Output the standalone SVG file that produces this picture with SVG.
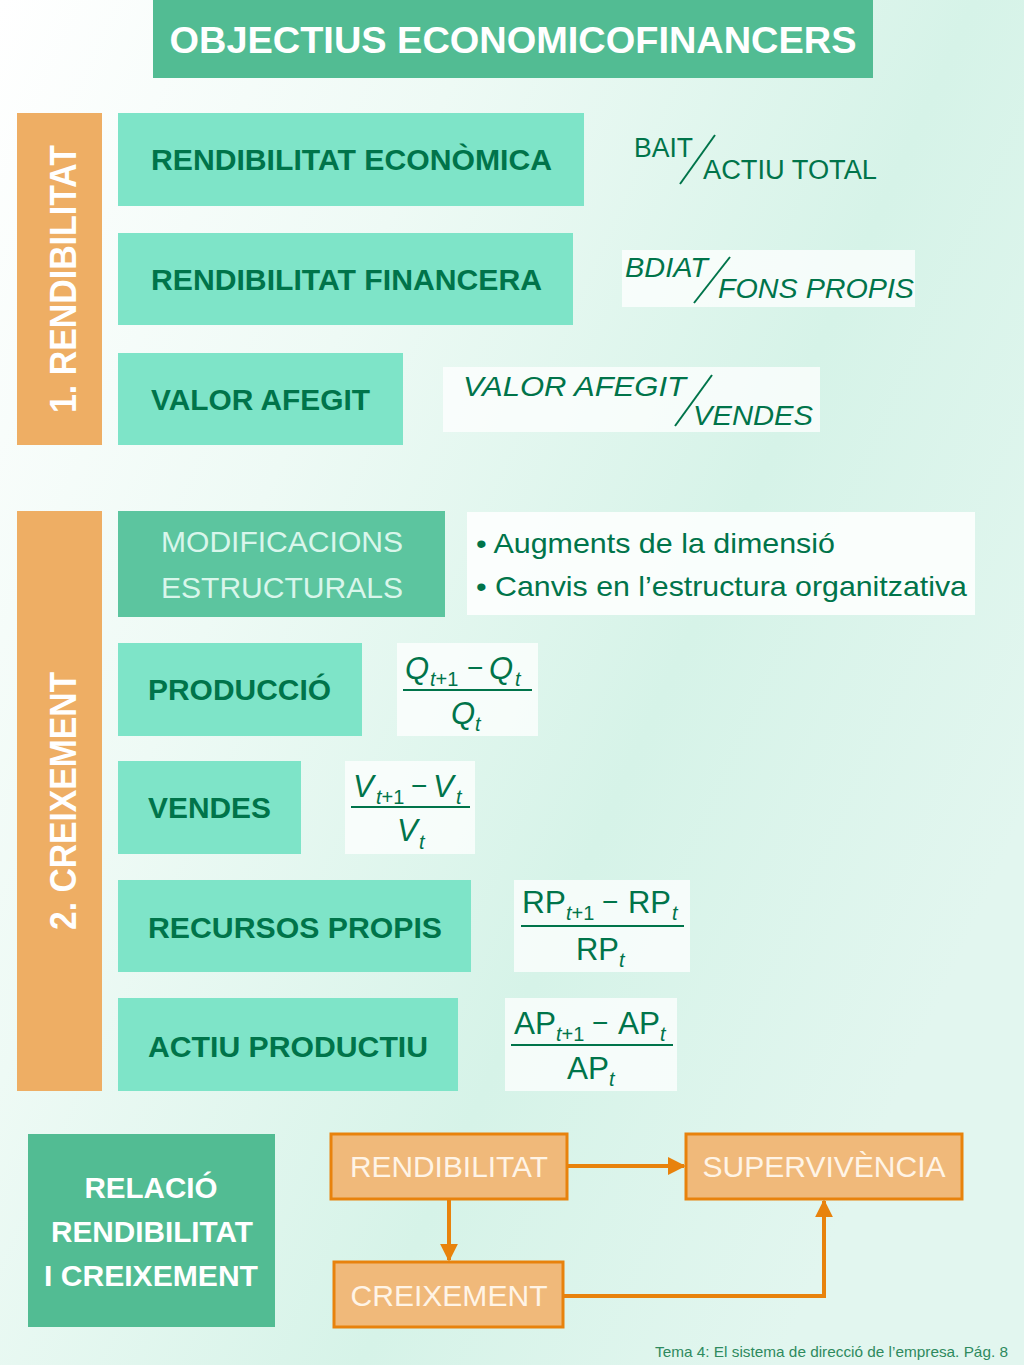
<svg xmlns="http://www.w3.org/2000/svg" width="1024" height="1365" viewBox="0 0 1024 1365">
<defs>
<linearGradient id="bg" x1="0" y1="0" x2="1" y2="0.6">
<stop offset="0" stop-color="#ffffff"/>
<stop offset="0.35" stop-color="#eefaf5"/>
<stop offset="0.7" stop-color="#d6f3e8"/>
<stop offset="1" stop-color="#e2f6ef"/>
</linearGradient>
<marker id="ah" viewBox="0 0 10 10" refX="9" refY="5" markerWidth="4.5" markerHeight="4.5" orient="auto" markerUnits="strokeWidth">
<path d="M0,0 L10,5 L0,10 Z" fill="#e8820c"/>
</marker>
<style>
.bold{font-family:"Liberation Sans",Arial,sans-serif;font-weight:bold}
.reg{font-family:"Liberation Sans",Arial,sans-serif}
.it{font-family:"Liberation Sans",Arial,sans-serif;font-style:italic}
.lbl{font-size:29px;fill:#00744a}
.mint{fill:#7ee4c8}
.orbar{fill:#eeae64}
.frm{fill:#ffffff;fill-opacity:0.75}
.ftxt{fill:#00744a}
.flow{fill:#f0b97a;stroke:#e8820c;stroke-width:3}
.ftx{font-size:29px;fill:#fff4e6}
.conn{fill:none;stroke:#e8820c;stroke-width:4}
.fl{stroke:#00744a;stroke-width:2}
</style>
</defs>
<rect x="0" y="0" width="1024" height="1365" fill="url(#bg)"/>

<g id="title">
<rect x="153" y="0" width="720" height="78" fill="#52bc93"/>
<text class="bold" x="513" y="53" font-size="37" fill="#ffffff" text-anchor="middle" textLength="687" lengthAdjust="spacingAndGlyphs">OBJECTIUS ECONOMICOFINANCERS</text>
</g>

<g id="bar-rendibilitat">
<rect class="orbar" x="17" y="113" width="85" height="332"/>
<text class="bold" transform="translate(76,279) rotate(-90)" font-size="36" fill="#ffffff" text-anchor="middle" textLength="268" lengthAdjust="spacingAndGlyphs">1. RENDIBILITAT</text>
</g>

<g id="rend-economica">
<rect class="mint" x="118" y="113" width="466" height="93"/>
<text class="bold lbl" x="151" y="170" textLength="401" lengthAdjust="spacingAndGlyphs">RENDIBILITAT ECONÒMICA</text>
</g>
<g id="f-economica">
<text class="reg ftxt" x="634" y="157" font-size="27" textLength="59" lengthAdjust="spacingAndGlyphs">BAIT</text>
<line class="fl" x1="715" y1="135" x2="680" y2="184"/>
<text class="reg ftxt" x="703" y="179" font-size="27" textLength="174" lengthAdjust="spacingAndGlyphs">ACTIU TOTAL</text>
</g>

<g id="rend-financera">
<rect class="mint" x="118" y="233" width="455" height="92"/>
<text class="bold lbl" x="151" y="290" textLength="391" lengthAdjust="spacingAndGlyphs">RENDIBILITAT FINANCERA</text>
</g>
<g id="f-financera">
<rect class="frm" x="622" y="250" width="293" height="57"/>
<text class="it ftxt" x="625" y="277" font-size="27" textLength="83" lengthAdjust="spacingAndGlyphs">BDIAT</text>
<line class="fl" x1="730" y1="257" x2="694" y2="303"/>
<text class="it ftxt" x="718" y="298" font-size="27" textLength="196" lengthAdjust="spacingAndGlyphs">FONS PROPIS</text>
</g>

<g id="valor-afegit">
<rect class="mint" x="118" y="353" width="285" height="92"/>
<text class="bold lbl" x="151" y="410" textLength="219" lengthAdjust="spacingAndGlyphs">VALOR AFEGIT</text>
</g>
<g id="f-valor">
<rect class="frm" x="443" y="367" width="377" height="65"/>
<text class="it ftxt" x="463" y="396" font-size="28" textLength="223" lengthAdjust="spacingAndGlyphs">VALOR  AFEGIT</text>
<line class="fl" x1="712" y1="375" x2="675" y2="426"/>
<text class="it ftxt" x="693" y="425" font-size="28" textLength="120" lengthAdjust="spacingAndGlyphs">VENDES</text>
</g>

<g id="bar-creixement">
<rect class="orbar" x="17" y="511" width="85" height="580"/>
<text class="bold" transform="translate(76,801) rotate(-90)" font-size="36" fill="#ffffff" text-anchor="middle" textLength="258" lengthAdjust="spacingAndGlyphs">2. CREIXEMENT</text>
</g>

<g id="modificacions">
<rect x="118" y="511" width="327" height="106" fill="#5cc59f"/>
<text class="reg" x="282" y="552" font-size="29" fill="#d9f6eb" text-anchor="middle" textLength="242" lengthAdjust="spacingAndGlyphs">MODIFICACIONS</text>
<text class="reg" x="282" y="598" font-size="29" fill="#d9f6eb" text-anchor="middle" textLength="242" lengthAdjust="spacingAndGlyphs">ESTRUCTURALS</text>
</g>
<g id="bullets">
<rect x="467" y="512" width="508" height="103" fill="#ffffff" fill-opacity="0.85"/>
<text class="reg ftxt" x="476" y="553" font-size="28" textLength="359" lengthAdjust="spacingAndGlyphs">• Augments de la dimensió</text>
<text class="reg ftxt" x="476" y="596" font-size="28" textLength="491" lengthAdjust="spacingAndGlyphs">• Canvis en l’estructura organitzativa</text>
</g>

<g id="produccio">
<rect class="mint" x="118" y="643" width="244" height="93"/>
<text class="bold lbl" x="148" y="700" textLength="183" lengthAdjust="spacingAndGlyphs">PRODUCCIÓ</text>
</g>
<g id="f-produccio">
<rect class="frm" x="397" y="643" width="141" height="93"/>
<text class="it ftxt" x="405" y="679" font-size="31">Q</text>
<text class="ftxt" x="430" y="686" font-size="20"><tspan class="it">t</tspan><tspan class="reg">+1</tspan></text>
<text class="reg ftxt" x="467" y="677" font-size="28">−</text>
<text class="it ftxt" x="489" y="679" font-size="31">Q</text>
<text class="it ftxt" x="515" y="686" font-size="20">t</text>
<line class="fl" x1="403" y1="690" x2="532" y2="690"/>
<text class="it ftxt" x="451" y="724" font-size="31">Q</text>
<text class="it ftxt" x="475" y="731" font-size="20">t</text>
</g>

<g id="vendes">
<rect class="mint" x="118" y="761" width="183" height="93"/>
<text class="bold lbl" x="148" y="818" textLength="123" lengthAdjust="spacingAndGlyphs">VENDES</text>
</g>
<g id="f-vendes">
<rect class="frm" x="345" y="761" width="130" height="93"/>
<text class="it ftxt" x="353" y="797" font-size="31">V</text>
<text class="ftxt" x="376" y="804" font-size="20"><tspan class="it">t</tspan><tspan class="reg">+1</tspan></text>
<text class="reg ftxt" x="411" y="795" font-size="28">−</text>
<text class="it ftxt" x="433" y="797" font-size="31">V</text>
<text class="it ftxt" x="456" y="804" font-size="20">t</text>
<line class="fl" x1="351" y1="807" x2="470" y2="807"/>
<text class="it ftxt" x="397" y="841" font-size="31">V</text>
<text class="it ftxt" x="419" y="849" font-size="20">t</text>
</g>

<g id="recursos">
<rect class="mint" x="118" y="880" width="353" height="92"/>
<text class="bold lbl" x="148" y="938" textLength="294" lengthAdjust="spacingAndGlyphs">RECURSOS PROPIS</text>
</g>
<g id="f-recursos">
<rect class="frm" x="514" y="880" width="176" height="92"/>
<text class="reg ftxt" x="522" y="913" font-size="31" textLength="44" lengthAdjust="spacingAndGlyphs">RP</text>
<text class="ftxt" x="566" y="920" font-size="20"><tspan class="it">t</tspan><tspan class="reg">+1</tspan></text>
<text class="reg ftxt" x="602" y="911" font-size="28">−</text>
<text class="reg ftxt" x="628" y="913" font-size="31" textLength="43" lengthAdjust="spacingAndGlyphs">RP</text>
<text class="it ftxt" x="672" y="920" font-size="20">t</text>
<line class="fl" x1="521" y1="926" x2="684" y2="926"/>
<text class="reg ftxt" x="576" y="960" font-size="31" textLength="43" lengthAdjust="spacingAndGlyphs">RP</text>
<text class="it ftxt" x="619" y="967" font-size="20">t</text>
</g>

<g id="actiu">
<rect class="mint" x="118" y="998" width="340" height="93"/>
<text class="bold lbl" x="148" y="1057" textLength="280" lengthAdjust="spacingAndGlyphs">ACTIU PRODUCTIU</text>
</g>
<g id="f-actiu">
<rect class="frm" x="505" y="998" width="172" height="93"/>
<text class="reg ftxt" x="514" y="1034" font-size="31" textLength="42" lengthAdjust="spacingAndGlyphs">AP</text>
<text class="ftxt" x="556" y="1041" font-size="20"><tspan class="it">t</tspan><tspan class="reg">+1</tspan></text>
<text class="reg ftxt" x="592" y="1032" font-size="28">−</text>
<text class="reg ftxt" x="618" y="1034" font-size="31" textLength="42" lengthAdjust="spacingAndGlyphs">AP</text>
<text class="it ftxt" x="660" y="1041" font-size="20">t</text>
<line class="fl" x1="511" y1="1045" x2="673" y2="1045"/>
<text class="reg ftxt" x="567" y="1079" font-size="31" textLength="42" lengthAdjust="spacingAndGlyphs">AP</text>
<text class="it ftxt" x="609" y="1086" font-size="20">t</text>
</g>

<g id="relacio">
<rect x="28" y="1134" width="247" height="193" fill="#52bc93"/>
<text class="bold" x="151" y="1198" font-size="29" fill="#ffffff" text-anchor="middle" textLength="133" lengthAdjust="spacingAndGlyphs">RELACIÓ</text>
<text class="bold" x="152" y="1242" font-size="29" fill="#ffffff" text-anchor="middle" textLength="202" lengthAdjust="spacingAndGlyphs">RENDIBILITAT</text>
<text class="bold" x="151" y="1286" font-size="29" fill="#ffffff" text-anchor="middle" textLength="214" lengthAdjust="spacingAndGlyphs">I CREIXEMENT</text>
</g>

<g id="connectors">
<line class="conn" x1="567" y1="1166" x2="684" y2="1166" marker-end="url(#ah)"/>
<line class="conn" x1="449" y1="1199" x2="449" y2="1260" marker-end="url(#ah)"/>
<polyline class="conn" points="563,1296 824,1296 824,1201" marker-end="url(#ah)"/>
</g>

<g id="n-rendibilitat">
<rect class="flow" x="331" y="1134" width="236" height="65"/>
<text class="reg ftx" x="449" y="1177" text-anchor="middle" textLength="198" lengthAdjust="spacingAndGlyphs">RENDIBILITAT</text>
</g>
<g id="n-supervivencia">
<rect class="flow" x="686" y="1134" width="276" height="65"/>
<text class="reg ftx" x="824" y="1177" text-anchor="middle" textLength="243" lengthAdjust="spacingAndGlyphs">SUPERVIVÈNCIA</text>
</g>
<g id="n-creixement">
<rect class="flow" x="334" y="1262" width="229" height="65"/>
<text class="reg ftx" x="449" y="1306" text-anchor="middle" textLength="197" lengthAdjust="spacingAndGlyphs">CREIXEMENT</text>
</g>

<g id="footer">
<text class="reg" x="1008" y="1357" font-size="15" fill="#2e8a5e" text-anchor="end" textLength="353" lengthAdjust="spacingAndGlyphs">Tema 4: El sistema de direcció de l’empresa. Pág. 8</text>
</g>
</svg>
